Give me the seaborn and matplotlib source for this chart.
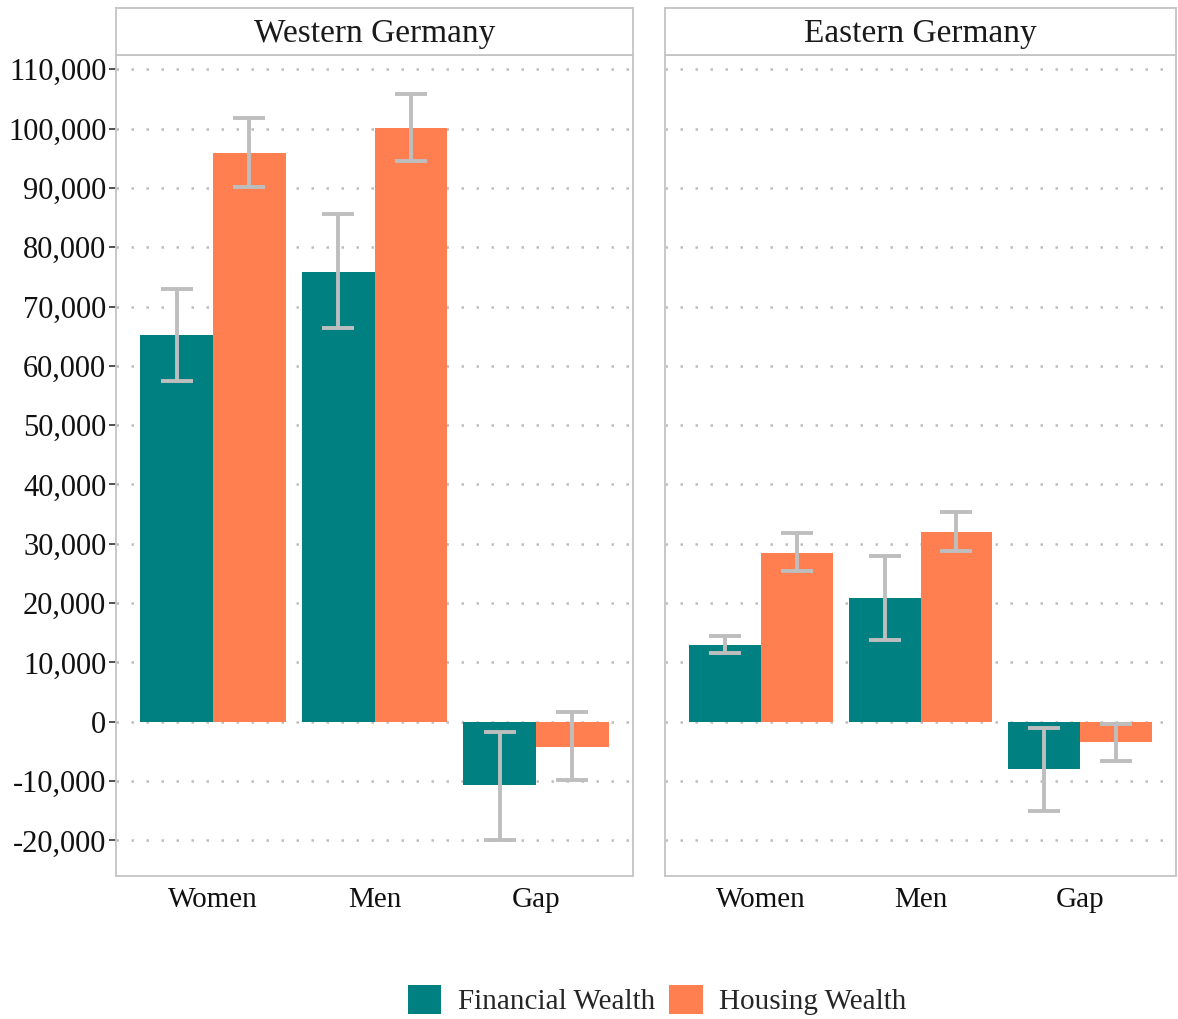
import matplotlib
matplotlib.use("Agg")
import matplotlib.pyplot as plt
from matplotlib.patches import Patch
from matplotlib.ticker import FuncFormatter
import pandas as pd
import seaborn as sns

# Mean wealth by group with confidence bounds
regions = ["Western Germany", "Eastern Germany"]
groups = ["Women", "Men", "Gap"]
wealth_types = ["Financial Wealth", "Housing Wealth"]

west_fin = [65200, 75900, -10600]
west_fin_lo = [57400, 66300, -19900]
west_fin_hi = [73000, 85600, -1800]
west_house = [95900, 100100, -4200]
west_house_lo = [90100, 94500, -9900]
west_house_hi = [101800, 105900, 1600]

east_fin = [13000, 20900, -7900]
east_fin_lo = [11600, 13800, -15000]
east_fin_hi = [14500, 28000, -1000]
east_house = [28500, 32000, -3400]
east_house_lo = [25400, 28800, -6600]
east_house_hi = [31900, 35400, -300]

y_ticks = list(range(-20000, 110001, 10000))

rows = []
series = {
    ("Western Germany", "Financial Wealth"): (west_fin, west_fin_lo, west_fin_hi),
    ("Western Germany", "Housing Wealth"): (west_house, west_house_lo, west_house_hi),
    ("Eastern Germany", "Financial Wealth"): (east_fin, east_fin_lo, east_fin_hi),
    ("Eastern Germany", "Housing Wealth"): (east_house, east_house_lo, east_house_hi),
}
for (reg, wt), (vals, los, his) in series.items():
    for g, v, lo, hi in zip(groups, vals, los, his):
        rows.append(dict(region=reg, group=g, type=wt, value=v, lo=lo, hi=hi))
df = pd.DataFrame(rows)

sns.set_theme(style="white")
plt.rcParams["font.family"] = ["Liberation Serif", "DejaVu Serif"]

palette = {"Financial Wealth": "#008080", "Housing Wealth": "#FF7F50"}
err_color = "#BEBEBE"
border_color = "#C4C4C4"
grid_color = "#BDBDBD"

W, H = 1178, 1019
fig = plt.figure(figsize=(W / 100, H / 100), dpi=100)

panel_x = [(116, 633), (665, 1176)]
panel_top, panel_bottom = 55, 876
strip_top = 8

for i, (reg, (x0, x1)) in enumerate(zip(regions, panel_x)):
    ax = fig.add_axes([x0 / W, 1 - panel_bottom / H, (x1 - x0) / W,
                       (panel_bottom - panel_top) / H])
    sub = df[df.region == reg]
    sns.barplot(data=sub, x="group", y="value", hue="type", order=groups,
                hue_order=wealth_types, palette=palette, width=0.9, gap=0,
                saturation=1, linewidth=0, errorbar=None, legend=False,
                ax=ax, zorder=2)

    # confidence intervals from the lo/hi columns
    for cont, wt in zip(ax.containers, wealth_types):
        part = sub[sub.type == wt].set_index("group").loc[groups]
        xs = [p.get_x() + p.get_width() / 2 for p in cont.patches]
        vals = part["value"].values
        ax.errorbar(xs, vals, yerr=[vals - part["lo"].values, part["hi"].values - vals],
                    fmt="none", ecolor=err_color, elinewidth=2.8, capsize=11.5,
                    capthick=2.8, zorder=3)

    ax.set_xlim(-0.6, 2.6)
    ax.set_ylim(-26000, 112400)
    ax.set_yticks(y_ticks)
    ax.yaxis.grid(True, color=grid_color, linestyle=(0, (1, 5)), linewidth=1.8, zorder=0)
    ax.xaxis.grid(False)
    ax.set_axisbelow(True)
    ax.set_xlabel("")
    ax.set_ylabel("")
    for s in ax.spines.values():
        s.set_color(border_color)
        s.set_linewidth(1.3)
    ax.tick_params(axis="x", length=5, width=1.2, color="#333333",
                   labelsize=21, labelcolor="#111111", pad=3)
    if i == 0:
        ax.yaxis.set_major_formatter(FuncFormatter(lambda v, _: f"{int(v):,}"))
        ax.tick_params(axis="y", length=5, width=1.2, color="#333333",
                       labelsize=22, labelcolor="#111111", pad=2, left=True)
    else:
        ax.tick_params(axis="y", left=False, labelleft=False)

    # facet strip
    sax = fig.add_axes([x0 / W, 1 - panel_top / H, (x1 - x0) / W,
                        (panel_top - strip_top) / H])
    sax.set_xticks([])
    sax.set_yticks([])
    sax.set_facecolor("white")
    for s in sax.spines.values():
        s.set_color(border_color)
        s.set_linewidth(1.3)
    sax.text(0.5, 0.45, reg, ha="center", va="center", fontsize=24,
             color="#1A1A1A", transform=sax.transAxes)

handles = [Patch(facecolor=palette[w], edgecolor="none", label=w) for w in wealth_types]
fig.legend(handles=handles, loc="center", bbox_to_anchor=(657 / W, 1 - 1000 / H),
           ncol=2, frameon=False, fontsize=21, handlelength=1.15, handleheight=1.15,
           handletextpad=0.55, columnspacing=0.5)

fig.savefig("out.png", dpi=100)
